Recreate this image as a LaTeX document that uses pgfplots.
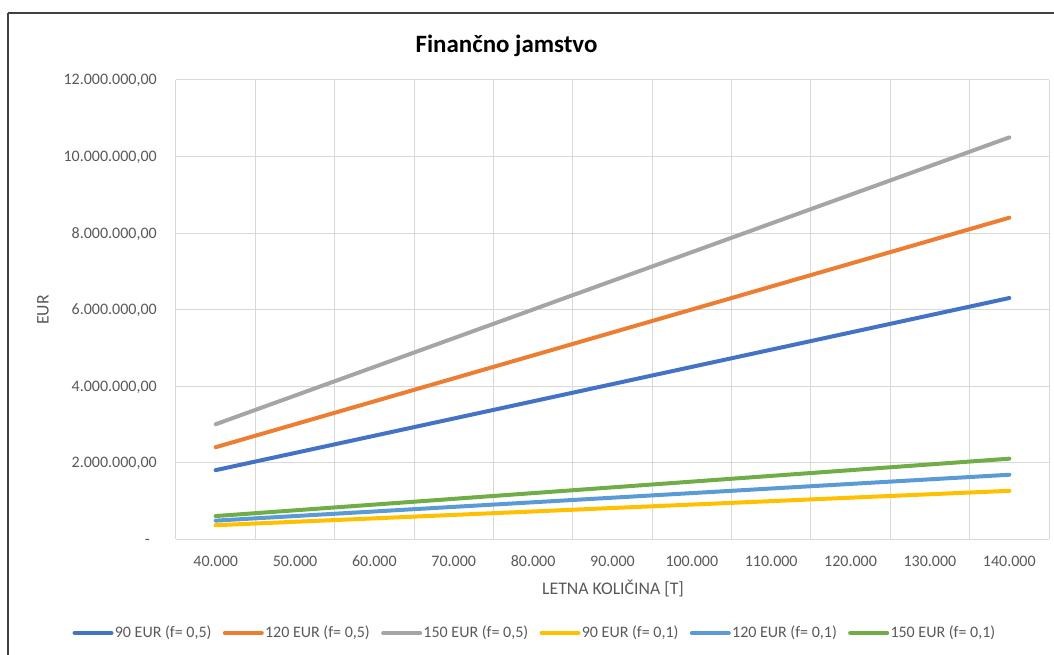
\documentclass[border=0pt]{standalone}
\usepackage{fontspec}
\setmainfont{Carlito}
\usepackage{pgfplots}
\usepackage{pgfplotstable}
\pgfplotsset{compat=1.18}

\definecolor{sA}{HTML}{4472C4}
\definecolor{sB}{HTML}{ED7D31}
\definecolor{sC}{HTML}{A5A5A5}
\definecolor{sD}{HTML}{FFC000}
\definecolor{sE}{HTML}{5B9BD5}
\definecolor{sF}{HTML}{70AD47}
\definecolor{gridgray}{HTML}{D9D9D9}
\definecolor{txtgray}{HTML}{595959}
\definecolor{framegray}{HTML}{404040}

% letna kolicina [t] and jamstvo [EUR] per series
\pgfplotstableread{
x      a       b       c        d       e       f
40000  1800000 2400000 3000000  360000  480000  600000
50000  2250000 3000000 3750000  450000  600000  750000
60000  2700000 3600000 4500000  540000  720000  900000
70000  3150000 4200000 5250000  630000  840000  1050000
80000  3600000 4800000 6000000  720000  960000  1200000
90000  4050000 5400000 6750000  810000  1080000 1350000
100000 4500000 6000000 7500000  900000  1200000 1500000
110000 4950000 6600000 8250000  990000  1320000 1650000
120000 5400000 7200000 9000000  1080000 1440000 1800000
130000 5850000 7800000 9750000  1170000 1560000 1950000
140000 6300000 8400000 10500000 1260000 1680000 2100000
}\jamstvo

\begin{document}
\begin{tikzpicture}
\useasboundingbox (0,0) rectangle (790.5pt,490.5pt);
\draw[framegray, line width=1.5pt] (6pt,480.75pt) -- (830pt,480.75pt)
  (6pt,480.75pt) -- (6pt,-20pt);
\begin{axis}[
    at={(132pt,86.25pt)}, anchor=south west,
    scale only axis,
    width=654.75pt, height=344.25pt,
    xmin=35000, xmax=145000,
    ymin=0, ymax=12000000,
    axis line style={draw=none},
    major tick length=0pt, minor tick length=0pt,
    xtick={40000,50000,...,140000},
    xticklabels={40.000,50.000,60.000,70.000,80.000,90.000,100.000,110.000,120.000,130.000,140.000},
    minor xtick={35000,45000,...,145000},
    xminorgrids=true,
    ytick={0,2000000,...,12000000},
    yticklabels={{-\kern5.25pt},{2.000.000,00},{4.000.000,00},{6.000.000,00},{8.000.000,00},{10.000.000,00},{12.000.000,00}},
    ymajorgrids=true,
    grid style={gridgray, line width=0.75pt},
    minor grid style={gridgray, line width=0.75pt},
    scaled ticks=false,
    tick label style={font=\fontsize{12pt}{14pt}\selectfont, text=txtgray},
    xticklabel style={anchor=base, inner sep=0pt, yshift=-20.8pt},
    yticklabel style={anchor=base east, inner sep=0pt, xshift=-14.25pt, yshift=-3.75pt},
    xlabel={LETNA KOLIČINA [T]},
    xlabel style={at={(axis description cs:0.5006,-0.1068)}, anchor=center,
        font=\fontsize{13.3pt}{15pt}\selectfont, text=txtgray},
    ylabel={EUR},
    ylabel style={at={(axis description cs:-0.1523,0.4989)}, anchor=center,
        font=\fontsize{13.3pt}{15pt}\selectfont, text=txtgray},
    title={Finančno jamstvo},
    title style={at={(axis description cs:0.3786,1.0414)}, anchor=base,
        font=\bfseries\fontsize{18.7pt}{22pt}\selectfont},
    legend columns=6,
    legend style={at={(axis description cs:0.4107,-0.2048)}, anchor=center,
        draw=none, fill=none, inner sep=0pt,
        font=\fontsize{12pt}{14pt}\selectfont, text=txtgray,
        nodes={inner sep=1pt},
        /tikz/every even column/.append style={column sep=7.5pt}},
    legend image code/.code={
        \path (0pt,0pt) -- (27.75pt,0pt);
        \draw[#1] (1.5pt,0pt) -- (26.25pt,0pt);},
    every axis plot/.append style={line width=3pt, line cap=round, line join=round},
]
\addplot[sA] table[x=x,y=a] {\jamstvo};
\addlegendentry{90 EUR (f= 0,5)}
\addplot[sB] table[x=x,y=b] {\jamstvo};
\addlegendentry{120 EUR (f= 0,5)}
\addplot[sC] table[x=x,y=c] {\jamstvo};
\addlegendentry{150 EUR (f= 0,5)}
\addplot[sD] table[x=x,y=d] {\jamstvo};
\addlegendentry{90 EUR (f= 0,1)}
\addplot[sE] table[x=x,y=e] {\jamstvo};
\addlegendentry{120 EUR (f= 0,1)}
\addplot[sF] table[x=x,y=f] {\jamstvo};
\addlegendentry{150 EUR (f= 0,1)}
\end{axis}
\end{tikzpicture}
\end{document}
